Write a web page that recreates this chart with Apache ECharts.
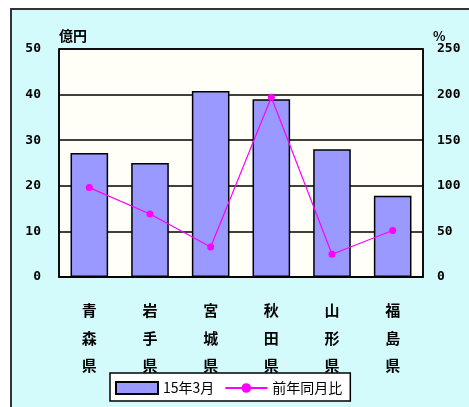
<!DOCTYPE html>
<html><head><meta charset="utf-8">
<script src="https://cdn.jsdelivr.net/npm/echarts@6/dist/echarts.min.js"></script>
<style>html,body{margin:0;padding:0;background:#fff}#c{width:469px;height:407px}</style>
</head><body><div id="c"></div>
<script>
const categories = ['青森県','岩手県','宮城県','秋田県','山形県','福島県'];
const amountValues = [27.2, 25.0, 40.8, 39.0, 28.0, 17.8];
const ratioValues = [98, 69, 33, 197, 25, 51];
const leftTicks = {min:0, max:50, interval:10};
const rightTicks = {min:0, max:250, interval:50};
const barName = '15年3月';
const lineName = '前年同月比';
const leftUnit = '億円';
const rightUnit = '%';

const chart = echarts.init(document.getElementById('c'), null, {renderer:'canvas'});
const font = '"Noto Sans CJK JP", "DejaVu Sans", sans-serif';
chart.setOption({
  animation:false,
  backgroundColor:'#fff',
  textStyle:{fontFamily:font, color:'#000'},
  graphic:[{type:'rect', shape:{x:11, y:9, width:470, height:410},
    style:{fill:'#d4fbfc', stroke:'#333', lineWidth:2}, z:-10}],
  grid:{left:59, top:49, right:46, bottom:130, show:true, backgroundColor:'#fffff8', borderColor:'#000', borderWidth:1.5},
  legend:{left:110, top:373, width:283, height:30, padding:[8,8,6,5],
    borderColor:'#000', borderWidth:1.5, backgroundColor:'#fff', itemGap:10,
    itemWidth:42, itemHeight:12,
    textStyle:{fontSize:14, fontFamily:font, color:'#000'},
    data:[{name:barName, icon:'rect'},{name:lineName}]},
  xAxis:{type:'category', data:categories,
    axisLine:{lineStyle:{color:'#000', width:1.5}},
    axisTick:{inside:true, length:5, lineStyle:{color:'#000'}},
    axisLabel:{margin:20, fontSize:15, lineHeight:27.5, color:'#000', fontWeight:'bold',
      formatter:v=>v.split('').join('\n')}},
  yAxis:[
    {type:'value', min:leftTicks.min, max:leftTicks.max, interval:leftTicks.interval,
     name:leftUnit, nameGap:6, nameTextStyle:{align:'left', fontSize:14, fontWeight:'bold', color:'#000'},
     axisLine:{show:true, lineStyle:{color:'#000', width:1.5}},
     axisTick:{show:false},
     axisLabel:{margin:18, fontSize:13, fontWeight:'bold', color:'#000', fontFamily:'"DejaVu Sans Mono", monospace'},
     splitLine:{lineStyle:{color:'#000', width:1.5}}},
    {type:'value', min:rightTicks.min, max:rightTicks.max, interval:rightTicks.interval,
     name:rightUnit, nameGap:6, nameTextStyle:{align:'left', padding:[0,0,0,10], fontSize:13, fontWeight:'bold', color:'#000'},
     axisLine:{show:true, lineStyle:{color:'#000', width:1.5}},
     axisTick:{show:false},
     axisLabel:{margin:14, fontSize:13, fontWeight:'bold', color:'#000', fontFamily:'"DejaVu Sans Mono", monospace'},
     splitLine:{show:false}}
  ],
  series:[
    {name:barName, type:'bar', data:amountValues, barWidth:'62%',
     itemStyle:{color:'#9999ff', borderColor:'#000', borderWidth:1.5}},
    {name:lineName, type:'line', yAxisIndex:1, data:ratioValues,
     symbol:'circle', symbolSize:7,
     lineStyle:{color:'#ff00ff', width:1.2}, itemStyle:{color:'#ff00ff'}}
  ]
});
</script></body></html>
